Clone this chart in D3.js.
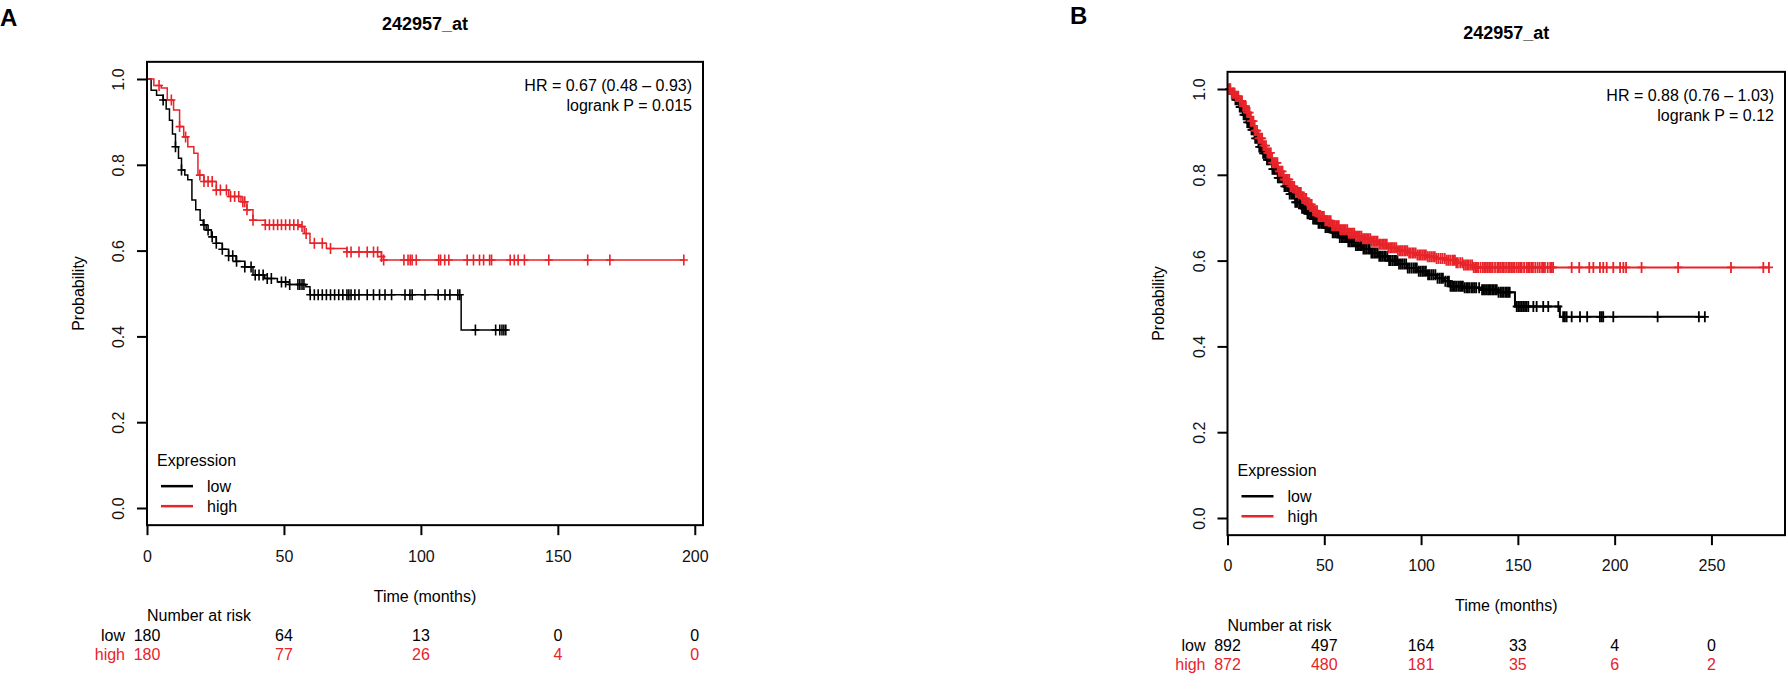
<!DOCTYPE html>
<html>
<head>
<meta charset="utf-8">
<script src="https://cdn.jsdelivr.net/npm/d3@7"></script>
<style>
  body { margin: 0; background: #fff; }
  svg text { font-family: 'Liberation Sans', Arial, Helvetica, sans-serif; }
</style>
</head>
<body>
<script>
// ---- panel A data ----
var aTitle = "242957_at";
var aXTicks = [0, 50, 100, 150, 200];
var aYTicks = [0, 0.2, 0.4, 0.6, 0.8, 1.0];
var aLowTime = [0, 1.5, 3.5, 5.9, 7, 8.2, 9.3, 10.4, 11.5, 12.6, 13.8, 14.9, 16.4, 17.8, 19.4, 20.5, 21.6, 23.5, 25.3, 27.5, 29.8, 32.5, 35.7, 38.7, 43, 47.6, 52, 58, 59.5, 114.7];
var aLowSurv = [1, 0.974, 0.962, 0.951, 0.93, 0.904, 0.872, 0.842, 0.815, 0.788, 0.776, 0.765, 0.718, 0.695, 0.671, 0.66, 0.648, 0.632, 0.617, 0.603, 0.588, 0.575, 0.562, 0.543, 0.535, 0.527, 0.521, 0.516, 0.497, 0.415];
var aLowEnd = 131;
var aLowCens = [5.9, 10.4, 12.6, 20.8, 22.3, 23.8, 25.3, 27.5, 29.8, 31.3, 32.7, 35.7, 38, 39.5, 40.9, 42.4, 43.9, 45.4, 49.1, 50.6, 52.1, 55.1, 55.8, 56.6, 57.3, 59.6, 61.1, 62.5, 64, 65.5, 67, 68.5, 70, 71.5, 73, 73.7, 74.5, 75.9, 77.4, 80.4, 82.7, 84.9, 86.9, 89.3, 94.2, 96, 96.8, 101.5, 106.3, 108.8, 110.6, 113.5, 114.2, 119.9, 127.3, 128.8, 129.6, 130.3, 131];
var aHighTime = [0, 2.5, 5.2, 7.4, 9.7, 11.9, 13.4, 14.9, 17.1, 18.6, 20.8, 25.3, 29.8, 34.3, 36.5, 38.7, 43.2, 55.9, 57.4, 59.5, 65.5, 73, 85.6, 86.3];
var aHighSurv = [1, 0.985, 0.979, 0.951, 0.928, 0.889, 0.865, 0.842, 0.827, 0.776, 0.761, 0.741, 0.726, 0.714, 0.695, 0.671, 0.66, 0.656, 0.64, 0.617, 0.605, 0.597, 0.586, 0.578];
var aHighEnd = 196;
var aHighCens = [4.4, 8.9, 11.9, 14.1, 19.3, 20.8, 22.3, 23.8, 25.3, 26.8, 29, 30.5, 32, 33.5, 35, 35.7, 36.5, 38.7, 43.2, 44.7, 46.2, 47.7, 49.1, 50.6, 52.1, 53.6, 55.1, 56.6, 58.1, 61.1, 64, 67, 73, 74.5, 77.4, 80.4, 82.7, 84.2, 85.6, 86.4, 93.8, 95.3, 96.1, 96.8, 98.3, 106.5, 107.2, 108.7, 110.2, 116.9, 119.2, 121.4, 122.9, 125.1, 125.8, 132.6, 134.1, 135.5, 137.8, 146.7, 160.9, 169, 196];
var aRiskLow = [180, 64, 13, 0, 0];
var aRiskHigh = [180, 77, 26, 4, 0];
var aHR = "HR = 0.67 (0.48 \u2013 0.93)";
var aP = "logrank P = 0.015";

// ---- panel B data ----
var bTitle = "242957_at";
var bXTicks = [0, 50, 100, 150, 200, 250];
var bYTicks = [0, 0.2, 0.4, 0.6, 0.8, 1.0];
var bLowTime = [0, 2, 4, 6, 8, 10, 12, 14, 16, 18, 20, 23, 26, 29, 32, 35, 38, 41, 44, 47, 50, 54, 58, 62, 66, 70, 74, 78, 83, 88, 93, 98, 103, 108, 112, 115, 122, 131, 140, 148.5, 171.7];
var bLowSurv = [1, 0.99, 0.975, 0.958, 0.94, 0.922, 0.905, 0.885, 0.865, 0.85, 0.835, 0.813, 0.793, 0.773, 0.755, 0.736, 0.722, 0.709, 0.697, 0.687, 0.677, 0.665, 0.654, 0.644, 0.635, 0.627, 0.618, 0.61, 0.6, 0.592, 0.583, 0.575, 0.567, 0.559, 0.552, 0.54, 0.537, 0.532, 0.526, 0.493, 0.469];
var bLowEnd = 246.6;
var bLowCens = [1.2, 2.2, 2.9, 3.5, 4.1, 4.8, 5.5, 6.3, 7, 7.6, 8.3, 9, 9.6, 10.2, 11, 11.7, 12.4, 13, 13.6, 14.3, 15, 15.8, 16.4, 17.1, 17.7, 18.4, 19.1, 19.8, 20.4, 21, 21.8, 22.6, 23.2, 23.9, 24.5, 25.2, 26, 26.7, 27.3, 28, 28.7, 29.4, 30.1, 30.8, 31.4, 32.1, 32.9, 33.6, 34.3, 35, 35.6, 36.3, 37.1, 37.8, 38.5, 39.2, 39.8, 40.5, 41.3, 42, 42.7, 43.4, 44.2, 44.9, 45.6, 46.3, 47, 47.7, 48.5, 49.2, 49.9, 50.6, 51.4, 52.1, 52.8, 53.5, 54.3, 55, 55.8, 56.6, 57.3, 58, 58.8, 59.5, 60.2, 61, 61.7, 62.4, 63.2, 64, 64.8, 65.6, 66.3, 67.1, 67.9, 68.7, 69.4, 70.2, 71, 71.8, 72.7, 73.5, 74.3, 75.1, 75.9, 76.7, 77.6, 78.4, 79.2, 80, 80.9, 81.7, 82.6, 83.5, 84.3, 85.2, 86.1, 87, 87.8, 88.6, 89.6, 90.5, 91.4, 92.3, 93.1, 94, 95, 96, 96.9, 97.8, 98.8, 99.7, 100.6, 101.5, 102.5, 103.6, 104.5, 105.5, 106.4, 107.4, 108.5, 109.5, 110.4, 111.3, 112.5, 113.6, 114.4, 115.2, 116, 116.8, 117.5, 118.3, 119.2, 120.1, 120.8, 121.6, 122.5, 123.4, 124.2, 125, 126, 126.8, 127.7, 128.5, 130, 131.5, 132.2, 133, 133.8, 134.6, 135.3, 136, 136.8, 137.5, 138.3, 139.1, 140, 141, 141.8, 142.6, 143.5, 144.3, 145, 145.8, 149.4, 150.2, 151.1, 152, 152.8, 153.7, 154.5, 155.4, 158, 159.7, 163.1, 165.7, 170.9, 173.4, 174.3, 175.2, 177.8, 182.1, 185.8, 192.4, 193.3, 194.1, 199.3, 222.2, 243.5, 246.6];
var bHighTime = [0, 2, 4, 6, 8, 10, 12, 14, 16, 18, 20, 23, 26, 29, 32, 35, 38, 41, 44, 47, 50, 54, 58, 62, 66, 70, 74, 78, 83, 88, 93, 98, 103, 108, 113, 118, 122, 127];
var bHighSurv = [1, 0.99, 0.983, 0.972, 0.96, 0.945, 0.925, 0.903, 0.885, 0.868, 0.851, 0.828, 0.808, 0.789, 0.773, 0.759, 0.745, 0.731, 0.716, 0.703, 0.693, 0.681, 0.672, 0.664, 0.657, 0.651, 0.645, 0.638, 0.63, 0.623, 0.618, 0.613, 0.609, 0.605, 0.601, 0.595, 0.59, 0.584];
var bHighEnd = 279.7;
var bHighCens = [0.8, 1.5, 2.3, 3, 3.6, 4.2, 4.9, 5.6, 6.3, 7, 7.5, 8.1, 8.8, 9.5, 10.1, 10.8, 11.4, 12, 12.7, 13.4, 14, 14.6, 15.3, 16, 16.7, 17.3, 17.9, 18.5, 19.2, 19.9, 20.6, 21.2, 21.8, 22.4, 23.1, 23.9, 24.5, 25.1, 25.8, 26.5, 27.1, 27.8, 28.4, 29, 29.8, 30.6, 31.2, 31.9, 32.5, 33.2, 33.8, 34.5, 35.3, 36, 36.6, 37.3, 37.9, 38.6, 39.4, 40.1, 40.7, 41.4, 42, 42.7, 43.5, 44.2, 44.9, 45.6, 46.3, 47, 47.6, 48.3, 49, 49.8, 50.5, 51.2, 51.8, 52.5, 53.3, 54, 54.7, 55.4, 56.1, 56.9, 57.5, 58.2, 59, 59.7, 60.4, 61.1, 61.9, 62.6, 63.3, 64, 64.8, 65.5, 66.3, 67, 67.7, 68.4, 69.2, 70, 70.7, 71.5, 72.2, 73, 73.8, 74.6, 75.4, 76.1, 76.8, 77.5, 78.4, 79.2, 80, 80.8, 81.5, 82.3, 83.1, 84, 84.7, 85.5, 86.4, 87.2, 88, 88.9, 89.6, 90.4, 91.3, 92.1, 92.9, 93.8, 94.6, 95.5, 96.3, 97.2, 98.1, 99, 99.9, 100.8, 101.6, 102.5, 103.4, 104.3, 105.2, 106.2, 107.1, 108, 109, 110.1, 111.1, 112.2, 113.1, 114, 115, 116.1, 116.8, 117.5, 118.2, 119, 120.2, 121.3, 122.1, 123, 123.8, 124.6, 125.5, 126.4, 127.2, 128, 128.8, 129.5, 130.7, 131.8, 132.6, 133.5, 134.4, 135.2, 136.1, 137, 138.2, 139.4, 140.2, 141.1, 142, 142.8, 143.9, 145, 145.8, 146.6, 147.5, 148.3, 149.4, 150.4, 151.2, 152, 153.2, 154.5, 155.3, 156.1, 157, 157.8, 159, 160.2, 161.3, 162.5, 163.2, 164, 165.4, 166.7, 167.4, 168.2, 177.8, 181.7, 186.9, 189, 192.4, 194.1, 195.9, 199.3, 202.8, 204.5, 205.9, 213.9, 232.8, 260.1, 276.8, 279.7];
var bRiskLow = [892, 497, 164, 33, 4, 0];
var bRiskHigh = [872, 480, 181, 35, 6, 2];
var bHR = "HR = 0.88 (0.76 \u2013 1.03)";
var bP = "logrank P = 0.12";

var groups = ["low", "high"];
var RED = "#e8232a";

var svg = d3.select("body").append("svg").attr("width", 1788).attr("height", 690);

function drawPanel(p) {
  var x = d3.scaleLinear().domain([0, p.xMax]).range([p.left, p.right]);
  var y = d3.scaleLinear().domain([0, 1]).range([p.y0, p.y1]);
  var g = svg.append("g");
  var boxTop = y(1.04), boxBot = y(-0.04);

  // curves, low first so high sits on top
  p.series.forEach(function(s) {
    var pts = s.time.map(function(t, i) { return [t, s.surv[i]]; });
    pts.push([s.end, s.surv[s.surv.length - 1]]);
    g.append("path")
      .attr("d", d3.line().x(function(d) { return x(d[0]); }).y(function(d) { return y(d[1]); }).curve(d3.curveStepAfter)(pts))
      .attr("fill", "none").attr("stroke", s.color).attr("stroke-width", p.lineW);
    var survAt = function(t) { return s.surv[Math.max(0, d3.bisectRight(s.time, t) - 1)]; };
    g.append("g").selectAll("path").data(s.cens).join("path")
      .attr("d", "M-4,0H4M0,-5.5V5.5")
      .attr("transform", function(d) { return "translate(" + x(d) + "," + y(survAt(d)) + ")"; })
      .attr("stroke", s.color).attr("stroke-width", p.markW).attr("fill", "none");
  });

  g.append("rect").attr("x", p.left).attr("y", boxTop)
    .attr("width", p.right - p.left).attr("height", boxBot - boxTop)
    .attr("fill", "none").attr("stroke", "#000").attr("stroke-width", 2);

  // x axis
  var xa = g.append("g").attr("transform", "translate(0," + boxBot + ")")
    .call(d3.axisBottom(x).tickValues(p.xTicks).tickSize(10).tickFormat(d3.format("d")));
  xa.select(".domain").remove();
  xa.selectAll("line").attr("stroke-width", 2);
  xa.selectAll("text").attr("dy", null).attr("y", p.xLabOff).attr("font-size", 16).attr("fill", "#111");

  // y axis, labels parallel to the axis
  var ya = g.append("g").attr("transform", "translate(" + p.left + ",0)")
    .call(d3.axisLeft(y).tickValues(p.yTicks).tickSize(10).tickFormat(d3.format(".1f")));
  ya.select(".domain").remove();
  ya.selectAll("line").attr("stroke-width", 2);
  ya.selectAll("text").attr("transform", "rotate(-90)").attr("x", 0).attr("y", -23)
    .attr("dy", null).attr("text-anchor", "middle").attr("font-size", 16).attr("fill", "#111");

  var midX = (p.left + p.right) / 2;
  g.append("text").attr("x", p.left - 69).attr("y", (boxTop + boxBot) / 2)
    .attr("transform", "rotate(-90," + (p.left - 69) + "," + ((boxTop + boxBot) / 2) + ")")
    .attr("dy", "0.35em").attr("text-anchor", "middle").attr("font-size", 16).text("Probability");
  g.append("text").attr("x", midX).attr("y", boxBot + p.timeOff).attr("text-anchor", "middle")
    .attr("font-size", 16).text("Time (months)");
  g.append("text").attr("x", midX).attr("y", p.titleY).attr("text-anchor", "middle")
    .attr("font-size", 18).attr("font-weight", "bold").text(p.title);
  g.append("text").attr("x", p.tagX).attr("y", p.tagY).attr("font-size", 24)
    .attr("font-weight", "bold").text(p.tag);

  g.append("text").attr("x", p.right - 11).attr("y", boxTop + 29).attr("text-anchor", "end")
    .attr("font-size", 16).text(p.hr);
  g.append("text").attr("x", p.right - 11).attr("y", boxTop + 49).attr("text-anchor", "end")
    .attr("font-size", 16).text(p.pv);

  // legend
  var lg = g.append("g").attr("transform", "translate(" + p.left + "," + (boxBot - 59) + ")");
  lg.append("text").attr("x", 10).attr("y", 0).attr("font-size", 16).text("Expression");
  p.series.forEach(function(s, i) {
    lg.append("line").attr("x1", 14).attr("x2", 46).attr("y1", 20 + i * 20).attr("y2", 20 + i * 20)
      .attr("stroke", s.color).attr("stroke-width", 2.5);
    lg.append("text").attr("x", 60).attr("y", 26 + i * 20).attr("font-size", 16).text(s.name);
  });

  // number at risk table
  var ry = boxBot + p.riskOff;
  g.append("text").attr("x", p.left).attr("y", ry).attr("font-size", 16).text("Number at risk");
  p.series.forEach(function(s, i) {
    var yy = ry + 20 + i * 19;
    g.append("text").attr("x", p.left - 22).attr("y", yy).attr("text-anchor", "end")
      .attr("font-size", 16).attr("fill", s.color).text(s.name);
    g.append("g").selectAll("text").data(s.risk).join("text")
      .attr("x", function(d, j) { return x(p.xTicks[j]); }).attr("y", yy)
      .attr("text-anchor", "middle").attr("font-size", 16).attr("fill", s.color)
      .text(function(d) { return d; });
  });
}

drawPanel({
  tag: "A", tagX: 0, tagY: 26, title: aTitle, titleY: 30,
  left: 147, right: 703, y0: 508, y1: 79, xMax: 203,
  xTicks: aXTicks, yTicks: aYTicks, xLabOff: 37, timeOff: 77, riskOff: 96,
  lineW: 1.5, markW: 1.6, hr: aHR, pv: aP,
  series: [
    { name: groups[0], color: "#000", time: aLowTime, surv: aLowSurv, end: aLowEnd, cens: aLowCens, risk: aRiskLow },
    { name: groups[1], color: RED, time: aHighTime, surv: aHighSurv, end: aHighEnd, cens: aHighCens, risk: aRiskHigh }
  ]
});

drawPanel({
  tag: "B", tagX: 1070, tagY: 24, title: bTitle, titleY: 39,
  left: 1227.5, right: 1785, y0: 518, y1: 89, xMax: 288,
  xTicks: bXTicks, yTicks: bYTicks, xLabOff: 36, timeOff: 76, riskOff: 96,
  lineW: 2, markW: 1.8, hr: bHR, pv: bP,
  series: [
    { name: groups[0], color: "#000", time: bLowTime, surv: bLowSurv, end: bLowEnd, cens: bLowCens, risk: bRiskLow },
    { name: groups[1], color: RED, time: bHighTime, surv: bHighSurv, end: bHighEnd, cens: bHighCens, risk: bRiskHigh }
  ]
});
</script>
</body>
</html>
